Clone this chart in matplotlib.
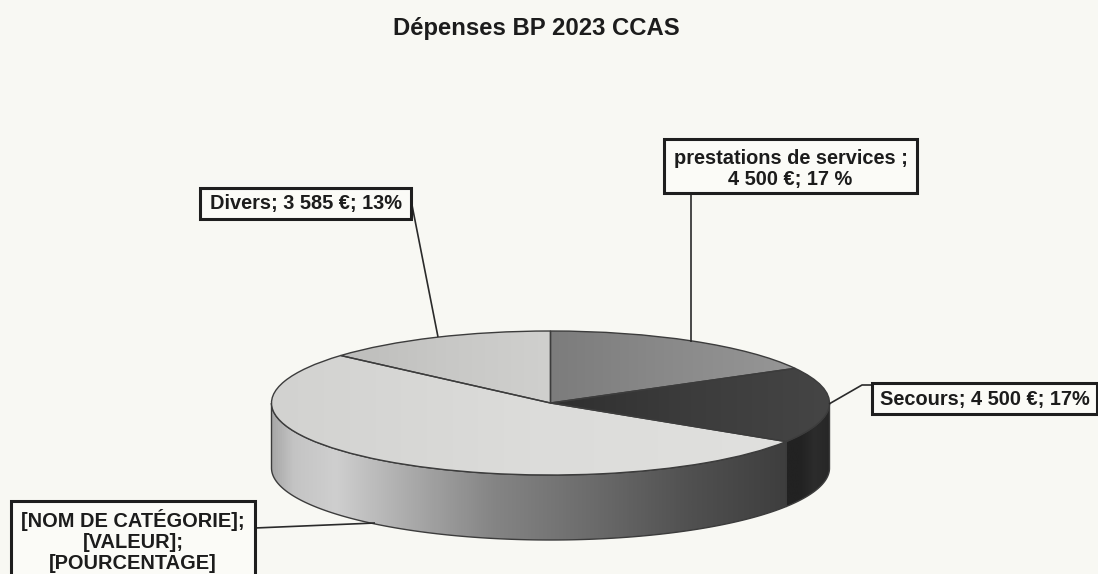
import numpy as np
import matplotlib
matplotlib.use("Agg")
import matplotlib.pyplot as plt
from matplotlib.colors import LinearSegmentedColormap
from matplotlib.patches import Polygon

plt.rcParams['font.family'] = ['Liberation Sans', 'DejaVu Sans']

title = "Dépenses BP 2023 CCAS"
categories = ["prestations de services", "Secours", "[NOM DE CATÉGORIE]", "Divers"]
values = [4500, 4500, 13885, 3585]
label_texts = ["prestations de services ;\n4 500 €; 17 %",
               "Secours; 4 500 €; 17%",
               "[NOM DE CATÉGORIE];\n[VALEUR];\n[POURCENTAGE]",
               "Divers; 3 585 €; 13%"]

W, H = 1098, 574
PAPER = "#f8f8f3"
CX, CY, RX, RY, DEPTH = 550.5, 403, 279, 72, 65

top_stops = [["#7c7c7c", "#8a8a8a", "#969696"],
             ["#2f2f2f", "#3c3c3c", "#454545"],
             ["#d2d2d0", "#dcdcda", "#e0e0de"],
             ["#bdbdbb", "#c8c8c6", "#d0d0ce"]]
wall_stops = [["#8a8a8a", "#8a8a8a"],
              ["#222222", "#222222", "#2c2c2c", "#262626"],
              [(0.00, "#a8a8a8"), (0.04, "#c4c4c4"), (0.12, "#cfcfcf"), (0.28, "#a6a6a6"),
               (0.42, "#858585"), (0.62, "#6a6a6a"), (0.80, "#505050"), (1.00, "#3c3c3c")],
              ["#c8c8c8", "#c8c8c8"]]
wall_ranges = [(-1, 1), (0.84, 1.0), (-1.0, 0.88), (-1, 1)]

fig = plt.figure(figsize=(W / 100, H / 100), dpi=100, facecolor=PAPER)
ax = fig.add_axes([0, 0, 1, 1])
wedges, _ = ax.pie(values, startangle=90, counterclock=False, radius=1,
                   wedgeprops=dict(edgecolor="#3c3c3c", linewidth=1.0, facecolor="none"))
ax.set_aspect("auto")
ax.set_xlim(-CX / RX, (W - CX) / RX)
ax.set_ylim((CY - H) / RY, CY / RY)
ax.set_axis_off()
xlim, ylim = ax.get_xlim(), ax.get_ylim()
depth = DEPTH / RY

# side wall of the visible front slices, from the same angles as the pie
fractions = np.cumsum([0] + values) / sum(values)
for i in range(len(values)):
    a0 = 90 - 360 * fractions[i]
    a1 = 90 - 360 * fractions[i + 1]
    # visible front: screen angle in [-180, 0]
    hi, lo = min(a0, 0), max(a1, -180)
    if hi <= lo:
        continue
    t = np.radians(np.linspace(hi, lo, 200))
    xs, ys = np.cos(t), np.sin(t)
    pts = np.r_[np.c_[xs, ys], np.c_[xs[::-1], ys[::-1] - depth]]
    poly = Polygon(pts, closed=True, facecolor="none", edgecolor="#3c3c3c", linewidth=1.0,
                   transform=ax.transData, zorder=3)
    ax.add_patch(poly)
    cmap = LinearSegmentedColormap.from_list(f"w{i}", wall_stops[i])
    x0, x1 = wall_ranges[i]
    im = ax.imshow(np.linspace(0, 1, 512)[None, :], extent=(x0, x1, -2.5, 1.5), cmap=cmap,
                   vmin=0, vmax=1, aspect="auto", zorder=2)
    im.set_clip_path(poly)

# gradient fill of the top faces
for i, w in enumerate(wedges):
    cmap = LinearSegmentedColormap.from_list(f"t{i}", top_stops[i])
    th = np.radians(np.linspace(w.theta1, w.theta2, 100))
    x0, x1 = min(0, np.cos(th).min()), max(0, np.cos(th).max())
    im = ax.imshow(np.linspace(0, 1, 256)[None, :], extent=(x0, x1, -1.1, 1.1), cmap=cmap,
                   vmin=0, vmax=1, aspect="auto", zorder=4)
    im.set_clip_path(w)
    w.set_zorder(5)
ax.set_xlim(xlim)
ax.set_ylim(ylim)

# overlay in image pixels for the title, boxes and leaders
ov = fig.add_axes([0, 0, 1, 1], facecolor="none")
ov.set_xlim(0, W)
ov.set_ylim(H, 0)
ov.set_axis_off()

ov.text(536.5, 28, title, ha="center", va="center", fontsize=17.2, fontweight="bold", color="#1c1c1c")

leaders = [([691, 691], [194, 342]),
           ([829, 862, 872], [404, 385, 385]),
           ([255, 375], [528, 523]),
           ([411, 438], [200, 337])]
for lx, ly in leaders:
    ov.plot(lx, ly, color="#2a2a2a", lw=1.2, zorder=6, solid_capstyle="butt")

boxes = [(664, 139, 253, 54), (872, 383, 225, 31), (11, 501, 244, 90), (200, 188, 211, 31)]
text_y = [169, 399, 541, 203.5]
for (bx, by, bw, bh), s, ty in zip(boxes, label_texts, text_y):
    ov.add_patch(plt.Rectangle((bx, by), bw, bh, facecolor="#fbfbf7", edgecolor="#1e1e1e",
                               linewidth=2.2, zorder=7))
    ov.text(bx + bw / 2, ty, s, ha="center", va="center", fontsize=14.4, fontweight="bold",
            color="#1c1c1c", zorder=8, linespacing=1.16)

fig.savefig("out.png", dpi=100, facecolor=PAPER)
